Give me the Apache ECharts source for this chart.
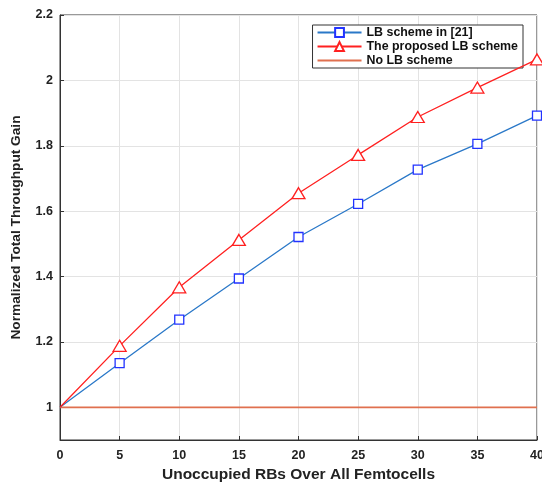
<!DOCTYPE html>
<html><head><meta charset="utf-8">
<script src="https://cdn.jsdelivr.net/npm/echarts@6/dist/echarts.min.js"></script>
<style>html,body{margin:0;padding:0;background:#fff}#c{width:542px;height:484px}</style>
</head><body><div id="c"></div>
<script>
const xValues = [0, 5, 10, 15, 20, 25, 30, 35, 40];
const lbRef21 = [1.0, 1.135, 1.268, 1.394, 1.521, 1.622, 1.727, 1.806, 1.892];
const proposedLB = [1.0, 1.188, 1.367, 1.512, 1.655, 1.772, 1.888, 1.978, 2.064];
const noLB = [1, 1, 1, 1, 1, 1, 1, 1, 1];
const yTicks = [1, 1.2, 1.4, 1.6, 1.8, 2, 2.2];
const seriesNames = ['LB scheme in [21]', 'The proposed LB scheme', 'No LB scheme'];

// first point (x = 0) is drawn without a marker, as in the reference
const pairs = arr => xValues.map((x, i) => i === 0 ? { value: [x, arr[i]], symbol: 'none' } : [x, arr[i]]);
const font = 'Liberation Sans, Arial, sans-serif';
const chart = echarts.init(document.getElementById('c'));
chart.setOption({
  animation: false,
  backgroundColor: '#fff',
  grid: { left: 60, right: 5, top: 15, bottom: 44, outerBoundsMode: 'none', containLabel: false,
    show: true, borderColor: '#333', borderWidth: 1, backgroundColor: '#fff' },
  legend: {
    data: [
      { name: seriesNames[0] },
      { name: seriesNames[1] },
      { name: seriesNames[2], itemStyle: { color: 'rgba(0,0,0,0)', borderColor: 'rgba(0,0,0,0)', opacity: 0 } }
    ],
    orient: 'vertical', right: 19, top: 25,
    backgroundColor: '#fff', borderColor: '#333', borderWidth: 1, borderRadius: 0,
    padding: [1, 5, 1, 4], itemGap: 1, itemWidth: 44, itemHeight: 11,
    textStyle: { fontFamily: font, fontWeight: 'bold', fontSize: 12.4, lineHeight: 13, color: '#111' }
  },
  xAxis: {
    type: 'value', min: 0, max: 40, interval: 5,
    name: 'Unoccupied RBs Over All Femtocells', nameLocation: 'middle', nameGap: 27,
    nameTextStyle: { fontFamily: font, fontWeight: 'bold', fontSize: 15.5, color: '#222' },
    axisLine: { lineStyle: { color: '#333' } },
    axisTick: { inside: true, length: 4, lineStyle: { color: '#333' } },
    axisLabel: { fontFamily: font, fontWeight: 'bold', fontSize: 12.5, color: '#222', margin: 9 },
    splitLine: { show: true, lineStyle: { color: '#e3e3e3', width: 1 } }
  },
  yAxis: {
    type: 'value', min: 0.9, max: 2.2,
    name: 'Normalized Total Throughput Gain', nameLocation: 'middle', nameGap: 37,
    nameTextStyle: { fontFamily: font, fontWeight: 'bold', fontSize: 13.7, color: '#222' },
    axisLine: { show: true, lineStyle: { color: '#333' } },
    axisTick: { show: true, inside: true, length: 4, customValues: yTicks, lineStyle: { color: '#333' } },
    axisLabel: { fontFamily: font, fontWeight: 'bold', fontSize: 12.5, color: '#222', margin: 7, customValues: yTicks,
      formatter: v => String(Math.round(v * 10) / 10) },
    splitLine: { show: true, lineStyle: { color: '#e3e3e3', width: 1 } }
  },
  series: [
    { name: seriesNames[0], type: 'line', data: pairs(lbRef21), symbol: 'rect', symbolSize: 9,
      lineStyle: { color: '#2a78c8', width: 1.3 }, itemStyle: { color: '#fff', borderColor: '#2233ff', borderWidth: 1.3 },
      showSymbol: true, z: 3 },
    { name: seriesNames[1], type: 'line', data: pairs(proposedLB), symbol: 'triangle', symbolSize: [13, 11],
      lineStyle: { color: '#ff2020', width: 1.3 }, itemStyle: { color: '#fff', borderColor: '#ff2020', borderWidth: 1.3 },
      showSymbol: true, z: 4 },
    { name: seriesNames[2], type: 'line', data: noLB.map((v, i) => [xValues[i], v]), symbol: 'none',
      lineStyle: { color: '#e0704f', width: 1.8 }, itemStyle: { color: '#e0704f' }, z: 2 }
  ]
});
</script></body></html>
